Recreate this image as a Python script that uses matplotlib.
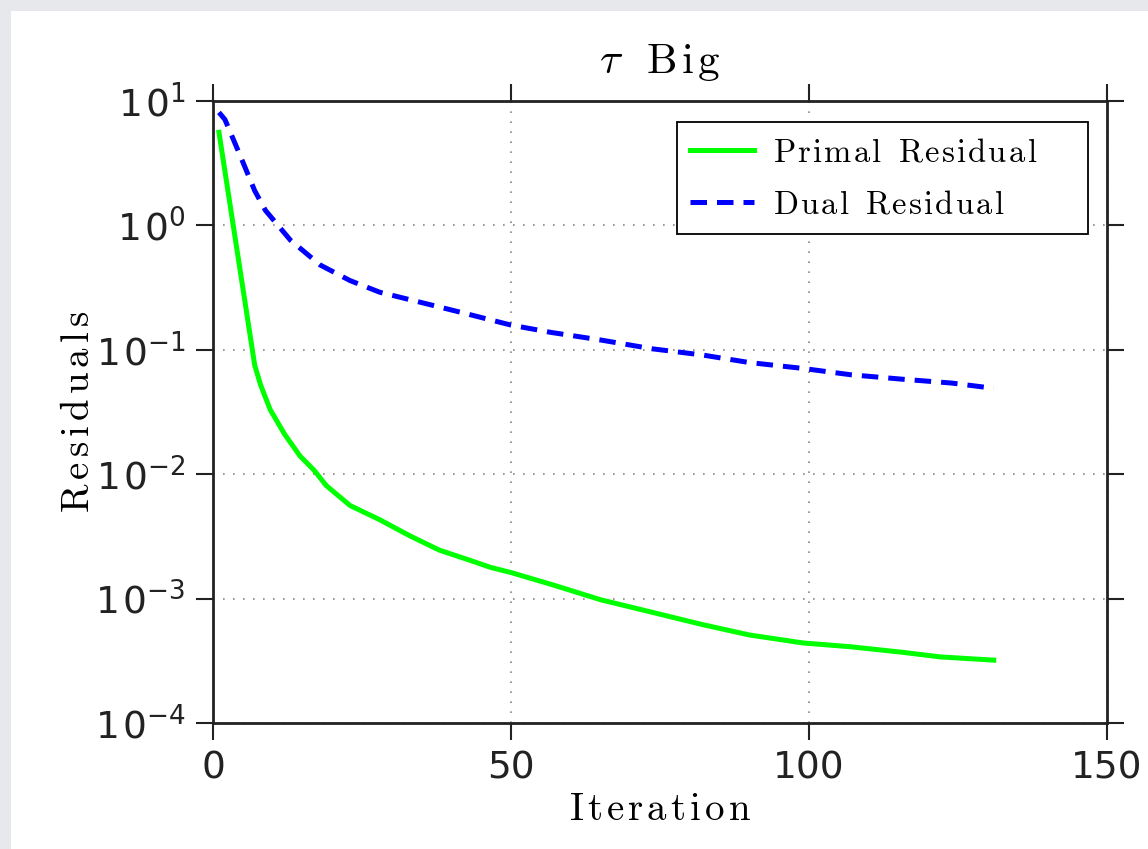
import matplotlib
matplotlib.use('Agg')
import matplotlib.pyplot as plt
from matplotlib.patches import Rectangle
from matplotlib.ticker import LogLocator, NullLocator, FuncFormatter
import numpy as np

# values (iteration, residual)
primal_iter = [1, 7, 8, 9.6, 12, 14.6, 17, 19, 23, 28, 33, 38, 43, 46.6, 50, 57, 65,
               73.5, 82, 90, 99, 107, 115.7, 122, 131]
primal_res = [5.6, 0.075, 0.052, 0.033, 0.021, 0.014, 0.0107, 0.0081, 0.0056, 0.0043,
              0.0032, 0.00245, 0.00204, 0.00178, 0.00162, 0.00129, 0.00098, 0.00078,
              0.00062, 0.00051, 0.00044, 0.00041, 0.00037, 0.00034, 0.00032]
dual_iter = [1, 2, 4.5, 7, 8.8, 13, 18, 23, 28, 36.5, 41.6, 50, 56.7, 65, 73.6, 82, 90,
             98.8, 107, 115.7, 124, 131]
dual_res = [8.1, 7.1, 3.7, 1.9, 1.32, 0.76, 0.48, 0.36, 0.29, 0.23, 0.20, 0.158, 0.138,
            0.12, 0.102, 0.091, 0.079, 0.071, 0.063, 0.058, 0.054, 0.049]

plt.rcParams['mathtext.fontset'] = 'cm'


def spaced(s, w=0.12, gap=0.33):
    # letter-spaced roman text in mathtext
    parts = []
    for ch in s:
        parts.append(r'\ ' + r'\hspace{%g}' % gap if ch == ' ' else ch)
    return r'$\mathrm{' + (r'\hspace{%g}' % w).join(parts) + '}$'


fig = plt.figure(figsize=(11.48, 8.49), dpi=100, facecolor='#e6e8eb')
fig.patches.append(Rectangle((11 / 1148, 0), 1, (849 - 11) / 849, transform=fig.transFigure,
                             facecolor='white', edgecolor='none', zorder=-10))
ax = fig.add_axes([213 / 1148, 126 / 849, (1107 - 213) / 1148, (723 - 101) / 849])

ax.plot(primal_iter, primal_res, color='#00ff00', lw=3.6, label=spaced('Primal Residual', 0.08, 0.1))
ax.plot(dual_iter, dual_res, color='#0000ff', lw=3.6, dashes=(3.3, 2), label=spaced('Dual Residual', 0.08, 0.1))

ax.set_yscale('log')
ax.set_xlim(0, 150)
ax.set_ylim(1e-4, 1e1)
ax.set_xticks([0, 50, 100, 150])
ax.yaxis.set_major_locator(LogLocator(base=10, numticks=10))
ax.yaxis.set_minor_locator(NullLocator())
ax.yaxis.set_major_formatter(FuncFormatter(
    lambda v, pos: r'$\mathdefault{1\hspace{0.1}0^{%d}}$' % int(round(np.log10(v)))))
ax.grid(True, which='major', color='#888888', linestyle=(0, (1, 5)), lw=1.2)

for s in ax.spines.values():
    s.set_linewidth(2.0)
    s.set_color('#222222')
ax.tick_params(axis='both', which='major', direction='out', length=12, width=1.5,
               top=True, right=True, labelsize=27, colors='#222222', pad=8)

ax.set_title(r'$\tau\hspace{0.75}\mathrm{B\hspace{0.12}i\hspace{0.12}g}$', fontsize=31, pad=20)
ax.set_xlabel(spaced('Iteration', 0.12), fontsize=28, labelpad=2)
ax.set_ylabel(spaced('Residuals', 0.15), fontsize=28, labelpad=-2)

leg_top = (849 - 122) / 849
leg = ax.legend(loc='upper left', mode='expand',
                bbox_to_anchor=(677 / 1148, leg_top - 0.2, (1088 - 677) / 1148, 0.2),
                bbox_transform=fig.transFigure, fancybox=False, framealpha=1,
                edgecolor='black', prop={'size': 23.5}, handlelength=1.95, borderpad=0.4,
                borderaxespad=0, labelspacing=0.6, handletextpad=0.6)
leg.get_frame().set_linewidth(1.3)

fig.savefig('out.png', dpi=100, facecolor=fig.get_facecolor())
